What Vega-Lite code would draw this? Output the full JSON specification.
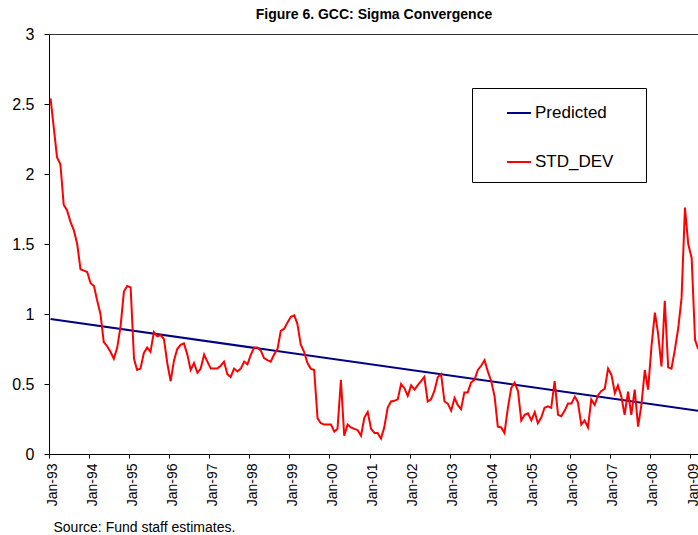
{
  "$schema": "https://vega.github.io/schema/vega-lite/v6.json",
  "autosize": {"type": "none"},
  "padding": {"left": 49, "top": 34, "right": 0, "bottom": 81},
  "width": 650,
  "height": 420,
  "config": {
    "font": "Liberation Sans",
    "view": {"stroke": "#333333", "strokeWidth": 1},
    "background": "white"
  },
  "title": {
    "text": "Figure 6. GCC: Sigma Convergence",
    "font": "Liberation Sans",
    "fontSize": 14,
    "fontWeight": "bold",
    "color": "#000000",
    "anchor": "middle",
    "baseline": "alphabetic",
    "offset": -7
  },
  "datasets": {
    "series": [
      {"date": "1993-01-15", "series": "Predicted", "value": 0.964},
      {"date": "2009-03-15", "series": "Predicted", "value": 0.309},
      {"date": "1993-01-15", "series": "STD_DEV", "value": 2.54},
      {"date": "1993-02-15", "series": "STD_DEV", "value": 2.32},
      {"date": "1993-03-15", "series": "STD_DEV", "value": 2.12},
      {"date": "1993-04-15", "series": "STD_DEV", "value": 2.07},
      {"date": "1993-05-15", "series": "STD_DEV", "value": 1.78},
      {"date": "1993-06-15", "series": "STD_DEV", "value": 1.74},
      {"date": "1993-07-15", "series": "STD_DEV", "value": 1.66},
      {"date": "1993-08-15", "series": "STD_DEV", "value": 1.60},
      {"date": "1993-09-15", "series": "STD_DEV", "value": 1.50},
      {"date": "1993-10-15", "series": "STD_DEV", "value": 1.32},
      {"date": "1993-11-15", "series": "STD_DEV", "value": 1.31},
      {"date": "1993-12-15", "series": "STD_DEV", "value": 1.30},
      {"date": "1994-01-15", "series": "STD_DEV", "value": 1.22},
      {"date": "1994-02-15", "series": "STD_DEV", "value": 1.20},
      {"date": "1994-03-15", "series": "STD_DEV", "value": 1.10},
      {"date": "1994-04-15", "series": "STD_DEV", "value": 1.00},
      {"date": "1994-05-15", "series": "STD_DEV", "value": 0.80},
      {"date": "1994-06-15", "series": "STD_DEV", "value": 0.77},
      {"date": "1994-07-15", "series": "STD_DEV", "value": 0.73},
      {"date": "1994-08-15", "series": "STD_DEV", "value": 0.68},
      {"date": "1994-09-15", "series": "STD_DEV", "value": 0.76},
      {"date": "1994-10-15", "series": "STD_DEV", "value": 0.91},
      {"date": "1994-11-15", "series": "STD_DEV", "value": 1.16},
      {"date": "1994-12-15", "series": "STD_DEV", "value": 1.20},
      {"date": "1995-01-15", "series": "STD_DEV", "value": 1.19},
      {"date": "1995-02-15", "series": "STD_DEV", "value": 0.68},
      {"date": "1995-03-15", "series": "STD_DEV", "value": 0.60},
      {"date": "1995-04-15", "series": "STD_DEV", "value": 0.61},
      {"date": "1995-05-15", "series": "STD_DEV", "value": 0.72},
      {"date": "1995-06-15", "series": "STD_DEV", "value": 0.76},
      {"date": "1995-07-15", "series": "STD_DEV", "value": 0.73},
      {"date": "1995-08-15", "series": "STD_DEV", "value": 0.87},
      {"date": "1995-09-15", "series": "STD_DEV", "value": 0.84},
      {"date": "1995-10-15", "series": "STD_DEV", "value": 0.85},
      {"date": "1995-11-15", "series": "STD_DEV", "value": 0.82},
      {"date": "1995-12-15", "series": "STD_DEV", "value": 0.65},
      {"date": "1996-01-15", "series": "STD_DEV", "value": 0.52},
      {"date": "1996-02-15", "series": "STD_DEV", "value": 0.67},
      {"date": "1996-03-15", "series": "STD_DEV", "value": 0.75},
      {"date": "1996-04-15", "series": "STD_DEV", "value": 0.78},
      {"date": "1996-05-15", "series": "STD_DEV", "value": 0.79},
      {"date": "1996-06-15", "series": "STD_DEV", "value": 0.71},
      {"date": "1996-07-15", "series": "STD_DEV", "value": 0.60},
      {"date": "1996-08-15", "series": "STD_DEV", "value": 0.65},
      {"date": "1996-09-15", "series": "STD_DEV", "value": 0.58},
      {"date": "1996-10-15", "series": "STD_DEV", "value": 0.61},
      {"date": "1996-11-15", "series": "STD_DEV", "value": 0.71},
      {"date": "1996-12-15", "series": "STD_DEV", "value": 0.66},
      {"date": "1997-01-15", "series": "STD_DEV", "value": 0.61},
      {"date": "1997-02-15", "series": "STD_DEV", "value": 0.61},
      {"date": "1997-03-15", "series": "STD_DEV", "value": 0.61},
      {"date": "1997-04-15", "series": "STD_DEV", "value": 0.63},
      {"date": "1997-05-15", "series": "STD_DEV", "value": 0.66},
      {"date": "1997-06-15", "series": "STD_DEV", "value": 0.57},
      {"date": "1997-07-15", "series": "STD_DEV", "value": 0.55},
      {"date": "1997-08-15", "series": "STD_DEV", "value": 0.61},
      {"date": "1997-09-15", "series": "STD_DEV", "value": 0.59},
      {"date": "1997-10-15", "series": "STD_DEV", "value": 0.61},
      {"date": "1997-11-15", "series": "STD_DEV", "value": 0.66},
      {"date": "1997-12-15", "series": "STD_DEV", "value": 0.64},
      {"date": "1998-01-15", "series": "STD_DEV", "value": 0.71},
      {"date": "1998-02-15", "series": "STD_DEV", "value": 0.76},
      {"date": "1998-03-15", "series": "STD_DEV", "value": 0.76},
      {"date": "1998-04-15", "series": "STD_DEV", "value": 0.74},
      {"date": "1998-05-15", "series": "STD_DEV", "value": 0.685},
      {"date": "1998-06-15", "series": "STD_DEV", "value": 0.67},
      {"date": "1998-07-15", "series": "STD_DEV", "value": 0.66},
      {"date": "1998-08-15", "series": "STD_DEV", "value": 0.71},
      {"date": "1998-09-15", "series": "STD_DEV", "value": 0.75},
      {"date": "1998-10-15", "series": "STD_DEV", "value": 0.88},
      {"date": "1998-11-15", "series": "STD_DEV", "value": 0.895},
      {"date": "1998-12-15", "series": "STD_DEV", "value": 0.94},
      {"date": "1999-01-15", "series": "STD_DEV", "value": 0.98},
      {"date": "1999-02-15", "series": "STD_DEV", "value": 0.99},
      {"date": "1999-03-15", "series": "STD_DEV", "value": 0.93},
      {"date": "1999-04-15", "series": "STD_DEV", "value": 0.78},
      {"date": "1999-05-15", "series": "STD_DEV", "value": 0.73},
      {"date": "1999-06-15", "series": "STD_DEV", "value": 0.65},
      {"date": "1999-07-15", "series": "STD_DEV", "value": 0.61},
      {"date": "1999-08-15", "series": "STD_DEV", "value": 0.60},
      {"date": "1999-09-15", "series": "STD_DEV", "value": 0.255},
      {"date": "1999-10-15", "series": "STD_DEV", "value": 0.22},
      {"date": "1999-11-15", "series": "STD_DEV", "value": 0.21},
      {"date": "1999-12-15", "series": "STD_DEV", "value": 0.21},
      {"date": "2000-01-15", "series": "STD_DEV", "value": 0.21},
      {"date": "2000-02-15", "series": "STD_DEV", "value": 0.16},
      {"date": "2000-03-15", "series": "STD_DEV", "value": 0.18},
      {"date": "2000-04-15", "series": "STD_DEV", "value": 0.53},
      {"date": "2000-05-15", "series": "STD_DEV", "value": 0.13},
      {"date": "2000-06-15", "series": "STD_DEV", "value": 0.21},
      {"date": "2000-07-15", "series": "STD_DEV", "value": 0.19},
      {"date": "2000-08-15", "series": "STD_DEV", "value": 0.18},
      {"date": "2000-09-15", "series": "STD_DEV", "value": 0.17},
      {"date": "2000-10-15", "series": "STD_DEV", "value": 0.13},
      {"date": "2000-11-15", "series": "STD_DEV", "value": 0.26},
      {"date": "2000-12-15", "series": "STD_DEV", "value": 0.30},
      {"date": "2001-01-15", "series": "STD_DEV", "value": 0.18},
      {"date": "2001-02-15", "series": "STD_DEV", "value": 0.15},
      {"date": "2001-03-15", "series": "STD_DEV", "value": 0.15},
      {"date": "2001-04-15", "series": "STD_DEV", "value": 0.11},
      {"date": "2001-05-15", "series": "STD_DEV", "value": 0.19},
      {"date": "2001-06-15", "series": "STD_DEV", "value": 0.33},
      {"date": "2001-07-15", "series": "STD_DEV", "value": 0.375},
      {"date": "2001-08-15", "series": "STD_DEV", "value": 0.38},
      {"date": "2001-09-15", "series": "STD_DEV", "value": 0.39},
      {"date": "2001-10-15", "series": "STD_DEV", "value": 0.50},
      {"date": "2001-11-15", "series": "STD_DEV", "value": 0.47},
      {"date": "2001-12-15", "series": "STD_DEV", "value": 0.415},
      {"date": "2002-01-15", "series": "STD_DEV", "value": 0.49},
      {"date": "2002-02-15", "series": "STD_DEV", "value": 0.46},
      {"date": "2002-03-15", "series": "STD_DEV", "value": 0.49},
      {"date": "2002-04-15", "series": "STD_DEV", "value": 0.52},
      {"date": "2002-05-15", "series": "STD_DEV", "value": 0.55},
      {"date": "2002-06-15", "series": "STD_DEV", "value": 0.375},
      {"date": "2002-07-15", "series": "STD_DEV", "value": 0.39},
      {"date": "2002-08-15", "series": "STD_DEV", "value": 0.45},
      {"date": "2002-09-15", "series": "STD_DEV", "value": 0.55},
      {"date": "2002-10-15", "series": "STD_DEV", "value": 0.57},
      {"date": "2002-11-15", "series": "STD_DEV", "value": 0.375},
      {"date": "2002-12-15", "series": "STD_DEV", "value": 0.36},
      {"date": "2003-01-15", "series": "STD_DEV", "value": 0.31},
      {"date": "2003-02-15", "series": "STD_DEV", "value": 0.40},
      {"date": "2003-03-15", "series": "STD_DEV", "value": 0.35},
      {"date": "2003-04-15", "series": "STD_DEV", "value": 0.32},
      {"date": "2003-05-15", "series": "STD_DEV", "value": 0.44},
      {"date": "2003-06-15", "series": "STD_DEV", "value": 0.44},
      {"date": "2003-07-15", "series": "STD_DEV", "value": 0.51},
      {"date": "2003-08-15", "series": "STD_DEV", "value": 0.53},
      {"date": "2003-09-15", "series": "STD_DEV", "value": 0.60},
      {"date": "2003-10-15", "series": "STD_DEV", "value": 0.63},
      {"date": "2003-11-15", "series": "STD_DEV", "value": 0.67},
      {"date": "2003-12-15", "series": "STD_DEV", "value": 0.59},
      {"date": "2004-01-15", "series": "STD_DEV", "value": 0.52},
      {"date": "2004-02-15", "series": "STD_DEV", "value": 0.41},
      {"date": "2004-03-15", "series": "STD_DEV", "value": 0.195},
      {"date": "2004-04-15", "series": "STD_DEV", "value": 0.19},
      {"date": "2004-05-15", "series": "STD_DEV", "value": 0.15},
      {"date": "2004-06-15", "series": "STD_DEV", "value": 0.33},
      {"date": "2004-07-15", "series": "STD_DEV", "value": 0.47},
      {"date": "2004-08-15", "series": "STD_DEV", "value": 0.51},
      {"date": "2004-09-15", "series": "STD_DEV", "value": 0.45},
      {"date": "2004-10-15", "series": "STD_DEV", "value": 0.24},
      {"date": "2004-11-15", "series": "STD_DEV", "value": 0.28},
      {"date": "2004-12-15", "series": "STD_DEV", "value": 0.29},
      {"date": "2005-01-15", "series": "STD_DEV", "value": 0.24},
      {"date": "2005-02-15", "series": "STD_DEV", "value": 0.30},
      {"date": "2005-03-15", "series": "STD_DEV", "value": 0.22},
      {"date": "2005-04-15", "series": "STD_DEV", "value": 0.26},
      {"date": "2005-05-15", "series": "STD_DEV", "value": 0.33},
      {"date": "2005-06-15", "series": "STD_DEV", "value": 0.34},
      {"date": "2005-07-15", "series": "STD_DEV", "value": 0.33},
      {"date": "2005-08-15", "series": "STD_DEV", "value": 0.52},
      {"date": "2005-09-15", "series": "STD_DEV", "value": 0.28},
      {"date": "2005-10-15", "series": "STD_DEV", "value": 0.27},
      {"date": "2005-11-15", "series": "STD_DEV", "value": 0.31},
      {"date": "2005-12-15", "series": "STD_DEV", "value": 0.36},
      {"date": "2006-01-15", "series": "STD_DEV", "value": 0.36},
      {"date": "2006-02-15", "series": "STD_DEV", "value": 0.41},
      {"date": "2006-03-15", "series": "STD_DEV", "value": 0.37},
      {"date": "2006-04-15", "series": "STD_DEV", "value": 0.21},
      {"date": "2006-05-15", "series": "STD_DEV", "value": 0.24},
      {"date": "2006-06-15", "series": "STD_DEV", "value": 0.19},
      {"date": "2006-07-15", "series": "STD_DEV", "value": 0.39},
      {"date": "2006-08-15", "series": "STD_DEV", "value": 0.35},
      {"date": "2006-09-15", "series": "STD_DEV", "value": 0.42},
      {"date": "2006-10-15", "series": "STD_DEV", "value": 0.45},
      {"date": "2006-11-15", "series": "STD_DEV", "value": 0.465},
      {"date": "2006-12-15", "series": "STD_DEV", "value": 0.61},
      {"date": "2007-01-15", "series": "STD_DEV", "value": 0.565},
      {"date": "2007-02-15", "series": "STD_DEV", "value": 0.435},
      {"date": "2007-03-15", "series": "STD_DEV", "value": 0.49},
      {"date": "2007-04-15", "series": "STD_DEV", "value": 0.41},
      {"date": "2007-05-15", "series": "STD_DEV", "value": 0.28},
      {"date": "2007-06-15", "series": "STD_DEV", "value": 0.445},
      {"date": "2007-07-15", "series": "STD_DEV", "value": 0.28},
      {"date": "2007-08-15", "series": "STD_DEV", "value": 0.46},
      {"date": "2007-09-15", "series": "STD_DEV", "value": 0.195},
      {"date": "2007-10-15", "series": "STD_DEV", "value": 0.35},
      {"date": "2007-11-15", "series": "STD_DEV", "value": 0.60},
      {"date": "2007-12-15", "series": "STD_DEV", "value": 0.46},
      {"date": "2008-01-15", "series": "STD_DEV", "value": 0.77},
      {"date": "2008-02-15", "series": "STD_DEV", "value": 1.01},
      {"date": "2008-03-15", "series": "STD_DEV", "value": 0.86},
      {"date": "2008-04-15", "series": "STD_DEV", "value": 0.625},
      {"date": "2008-05-15", "series": "STD_DEV", "value": 1.095},
      {"date": "2008-06-15", "series": "STD_DEV", "value": 0.62},
      {"date": "2008-07-15", "series": "STD_DEV", "value": 0.61},
      {"date": "2008-08-15", "series": "STD_DEV", "value": 0.745},
      {"date": "2008-09-15", "series": "STD_DEV", "value": 0.90},
      {"date": "2008-10-15", "series": "STD_DEV", "value": 1.115},
      {"date": "2008-11-15", "series": "STD_DEV", "value": 1.76},
      {"date": "2008-12-15", "series": "STD_DEV", "value": 1.50},
      {"date": "2009-01-15", "series": "STD_DEV", "value": 1.40},
      {"date": "2009-02-15", "series": "STD_DEV", "value": 0.815},
      {"date": "2009-03-15", "series": "STD_DEV", "value": 0.75}
    ]
  },
  "data": {"name": "series"},
  "mark": {"type": "line", "strokeWidth": 2, "clip": true},
  "encoding": {
    "x": {
      "field": "date",
      "type": "temporal",
      "scale": {
        "type": "utc",
        "domain": [
          {"year": 1993, "month": 1, "date": 1, "utc": true},
          {"year": 2009, "month": 3, "date": 23, "utc": true}
        ],
        "nice": false
      },
      "axis": {
        "format": "%b-%y",
        "tickCount": {"interval": "year", "step": 1},
        "labelAngle": 270,
        "labelAlign": "right",
        "labelBaseline": "middle",
        "labelFontSize": 14,
        "labelColor": "#000000",
        "labelPadding": 5,
        "labelOffset": 3,
        "labelOverlap": false,
        "labelFlush": false,
        "tickSize": 4,
        "tickColor": "#000000",
        "domainColor": "#000000",
        "grid": false,
        "title": "Source: Fund staff estimates.",
        "titleFontSize": 14,
        "titleFontWeight": "normal",
        "titleColor": "#000000",
        "titleAnchor": "start",
        "titleAlign": "left",
        "titleBaseline": "alphabetic",
        "titleX": 4,
        "titleY": 77
      }
    },
    "y": {
      "field": "value",
      "type": "quantitative",
      "scale": {"domain": [0, 3], "nice": false},
      "axis": {
        "values": [0, 0.5, 1, 1.5, 2, 2.5, 3],
        "format": "~g",
        "labelFontSize": 16,
        "labelColor": "#000000",
        "labelPadding": 10,
        "tickSize": 5,
        "tickColor": "#000000",
        "domainColor": "#000000",
        "grid": false,
        "title": null
      }
    },
    "color": {
      "field": "series",
      "type": "nominal",
      "scale": {"domain": ["Predicted", "STD_DEV"], "range": ["#000080", "#FF0000"]},
      "legend": {
        "title": " ",
        "titleOrient": "right",
        "titleFontSize": 2,
        "titlePadding": 21,
        "orient": "none",
        "legendX": 423,
        "legendY": 54,
        "direction": "vertical",
        "padding": 12,
        "strokeColor": "#000000",
        "fillColor": "#FFFFFF",
        "symbolType": "stroke",
        "symbolSize": 576,
        "symbolStrokeWidth": 2,
        "symbolOffset": 22,
        "labelFontSize": 17,
        "labelColor": "#000000",
        "labelOffset": 3,
        "rowPadding": 28
      }
    }
  }
}
